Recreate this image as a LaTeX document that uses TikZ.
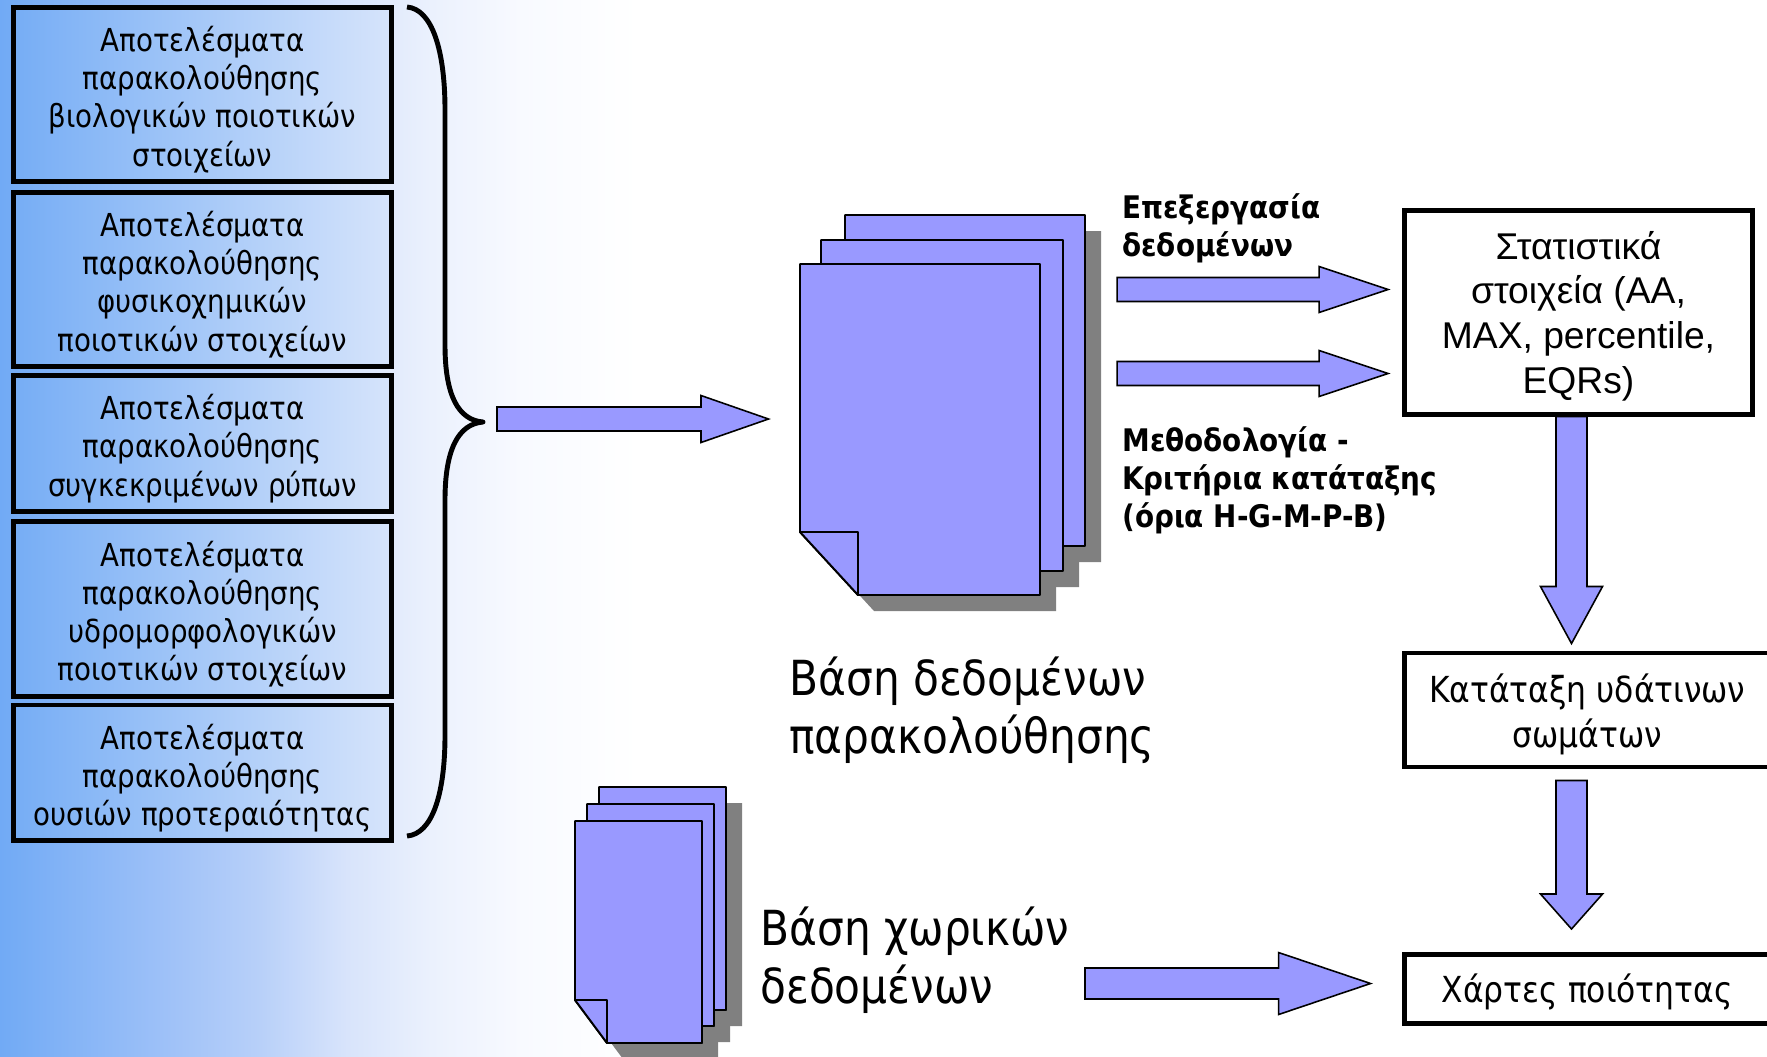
\documentclass[tikz,border=0pt]{standalone}
\usepackage{fontspec}
\setmainfont[FakeStretch=0.875]{DejaVu Sans}
\newfontfamily\boldfont[FakeStretch=0.895]{DejaVu Sans Bold}
\newfontfamily\arialfont{Liberation Sans}
\usetikzlibrary{calc}

\definecolor{arrowblue}{HTML}{9999FF}
\definecolor{shadowgray}{HTML}{808080}
\definecolor{bgleft}{HTML}{76ADF5}
\definecolor{bgright}{HTML}{D6E4FB}
\definecolor{fadea}{HTML}{71AAF5}
\definecolor{fadeb}{HTML}{A0C2F8}
\definecolor{fadec}{HTML}{B8D0F9}
\definecolor{faded}{HTML}{D8E4FB}
\definecolor{fadee}{HTML}{EBF1FD}
\definecolor{fadef}{HTML}{F8FAFF}
\pgfdeclarehorizontalshading{pagefade}{100bp}{color(0bp)=(fadea); color(25bp)=(fadea); color(35.8bp)=(fadeb); color(41.25bp)=(fadec);
    color(46.7bp)=(faded); color(52bp)=(fadee); color(57.5bp)=(fadef); color(65bp)=(white); color(100bp)=(white)}

\tikzset{
    resultbox/.style={draw=black,line width=2.7pt,left color=bgleft,right color=bgright,
        minimum width=7.56cm,align=center,inner sep=0pt,outer sep=0pt,
        font=\fontsize{18}{21.7}\selectfont},
    outbox/.style={draw=black,line width=2.6pt,fill=white,align=center,inner sep=0pt,outer sep=0pt},
    blockline/.style={draw=black,line width=0.9pt,fill=arrowblue,line join=miter},
    sheet/.style={draw=black,line width=1.1pt,fill=arrowblue,line join=round},
    shadowsheet/.style={fill=shadowgray},
    bigtext/.style={anchor=west,align=left,inner sep=0pt,font=\fontsize{27.5}{33}\selectfont},
    boldtext/.style={anchor=west,align=left,inner sep=0pt,font=\fontsize{17.7}{21.6}\selectfont\boldfont}
}
\newcommand{\boxdrop}{\rule{0pt}{20.1pt}}

% block arrow: from, to, half shaft, head length, half head
\newcommand{\blockarrow}[5]{
    \coordinate (neck) at ($(#2)!#4!(#1)$);
    \draw[blockline] ($(#1)!#3!90:(#2)$) -- ($(neck)!#3!-90:(#1)$) -- ($(neck)!#5!-90:(#1)$) -- (#2)
        -- ($(neck)!#5!90:(#1)$) -- ($(neck)!#3!90:(#1)$) -- ($(#1)!#3!-90:(#2)$) -- cycle;
}
% one sheet: left, top, right, bottom, fold x, fold y
\newcommand{\foldsheet}[7][sheet]{
    \path[#1] (#2,#3) -- (#4,#3) -- (#4,#5) -- (#6,#5) -- (#2,#7) -- cycle;
}

\begin{document}
\begin{tikzpicture}[x=0.02cm,y=-0.02cm]
    \useasboundingbox (0,0) rectangle (1767,1056);
    \clip (0,0) rectangle (1767,1056);
    \fill[white] (0,0) rectangle (1767,1056);
    \shade[shading=pagefade] (0,0) rectangle (800,1056);

    % monitoring results
    \node[resultbox,minimum height=3.48cm] (bio) at (202.5,94.5) {\boxdrop Αποτελέσματα\\παρακολούθησης\\βιολογικών ποιοτικών\\στοιχείων};
    \node[resultbox,minimum height=3.48cm] (chem) at (202.5,279.5) {\boxdrop Αποτελέσματα\\παρακολούθησης\\φυσικοχημικών\\ποιοτικών στοιχείων};
    \node[resultbox,minimum height=2.72cm] (pollut) at (202.5,443.5) {\boxdrop Αποτελέσματα\\παρακολούθησης\\συγκεκριμένων ρύπων};
    \node[resultbox,minimum height=3.49cm] (hydro) at (202.5,609) {\boxdrop Αποτελέσματα\\παρακολούθησης\\υδρομορφολογικών\\ποιοτικών στοιχείων};
    \node[resultbox,minimum height=2.71cm] (prio) at (202.5,772.8) {\boxdrop Αποτελέσματα\\παρακολούθησης\\ουσιών προτεραιότητας};

    \draw[line width=2.8pt,line join=round] (407,7) .. controls (432,9) and (445,50) .. (445,110) -- (445,345)
        .. controls (445,395) and (458,420) .. (483,422) .. controls (458,424) and (445,450) .. (445,500)
        -- (445,735) .. controls (445,795) and (432,834) .. (407,836);

    % database stack
    \begin{scope}[shift={(16,16)}]
        \foldsheet[shadowsheet]{845}{215}{1085}{546}{903}{483}
        \foldsheet[shadowsheet]{821}{240}{1063}{571}{879}{508}
        \foldsheet[shadowsheet]{800}{264}{1040}{595}{858}{532}
    \end{scope}
    \foldsheet{845}{215}{1085}{546}{903}{483}
    \foldsheet{821}{240}{1063}{571}{879}{508}
    \foldsheet{800}{264}{1040}{595}{858}{532}
    \draw[sheet] (800,532) -- (858,532) -- (858,595) -- cycle;
    \node[bigtext] (dbname) at (789,710) {Βάση δεδομένων\\παρακολούθησης};

    % spatial stack
    \begin{scope}[shift={(16,16)}]
        \foldsheet[shadowsheet]{599}{787}{726}{1010}{631}{967}
        \foldsheet[shadowsheet]{587}{804}{714}{1026}{619}{983}
        \foldsheet[shadowsheet]{575}{821}{702}{1043}{607}{1000}
    \end{scope}
    \foldsheet{599}{787}{726}{1010}{631}{967}
    \foldsheet{587}{804}{714}{1026}{619}{983}
    \foldsheet{575}{821}{702}{1043}{607}{1000}
    \draw[sheet] (575,1000) -- (607,1000) -- (607,1043) -- cycle;
    \node[bigtext] (spname) at (760,960) {Βάση χωρικών\\δεδομένων};

    % outputs
    \coordinate (dbtail) at (497,419);
    \coordinate (dbhead) at (768.5,419);
    \blockarrow{dbtail}{dbhead}{0.24cm}{1.35cm}{0.47cm}

    \node[outbox,minimum width=6.96cm,minimum height=4.08cm,font=\fontsize{21.2}{25.5}\selectfont\arialfont] (stat) at (1578.5,312.5)
        {\rule{0pt}{20pt}Στατιστικά\\στοιχεία (AA,\\MAX, percentile,\\EQRs)};
    \node[outbox,minimum width=7.31cm,minimum height=2.28cm,font=\fontsize{20.4}{25.5}\selectfont] (class) at (1587.25,710)
        {\rule{0pt}{21pt}Κατάταξη υδάτινων\\σωμάτων};
    \node[outbox,minimum width=7.31cm,minimum height=1.38cm,font=\fontsize{20.4}{25.5}\selectfont] (map) at (1587.25,989)
        {\rule{0pt}{19.8pt}Χάρτες ποιότητας};

    \coordinate (proctail) at ($(stat.west)+(-287.5,-23)$);
    \coordinate (prochead) at ($(stat.west)+(-16.5,-23)$);
    \blockarrow{proctail}{prochead}{0.24cm}{1.38cm}{0.46cm}
    \coordinate (methtail) at ($(stat.west)+(-287.5,61)$);
    \coordinate (methhead) at ($(stat.west)+(-16.5,61)$);
    \blockarrow{methtail}{methhead}{0.24cm}{1.38cm}{0.46cm}

    \node[boldtext] (proc) at (1122,228) {Επεξεργασία\\δεδομένων};
    \node[boldtext] (meth) at (1122,480) {Μεθοδολογία -\\Κριτήρια κατάταξης\\(όρια H-G-M-P-B)};

    \coordinate (stattail) at ($(stat.south)+(-7,2)$);
    \coordinate (stathead) at ($(class.north)+(-15.75,-9.5)$);
    \blockarrow{stattail}{stathead}{0.31cm}{1.14cm}{0.62cm}
    \coordinate (classtail) at ($(class.south)+(-15.75,13.5)$);
    \coordinate (classhead) at ($(map.north)+(-15.75,-25.5)$);
    \blockarrow{classtail}{classhead}{0.31cm}{0.7cm}{0.62cm}
    \coordinate (sptail) at (1085,983.5);
    \coordinate (sphead) at ($(map.west)+(-34,-5.5)$);
    \blockarrow{sptail}{sphead}{0.31cm}{1.84cm}{0.62cm}
\end{tikzpicture}
\end{document}
